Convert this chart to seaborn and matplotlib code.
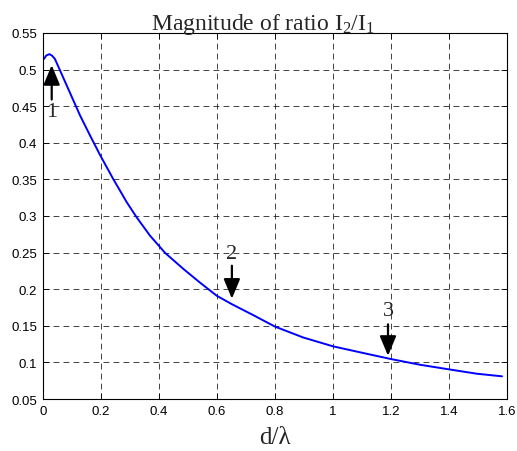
import numpy as np
import pandas as pd
import seaborn as sns
import matplotlib.pyplot as plt

# values
d_lambda = [0.0045, 0.012, 0.023, 0.032, 0.042, 0.06, 0.083, 0.106, 0.129, 0.163,
            0.198, 0.243, 0.29, 0.324, 0.37, 0.422, 0.485, 0.542, 0.6, 0.652,
            0.726, 0.8, 0.898, 1.0, 1.105, 1.2, 1.3, 1.4, 1.497, 1.583]
ratio = [0.5145, 0.519, 0.521, 0.519, 0.5145, 0.4985, 0.478, 0.4575, 0.437, 0.41,
         0.383, 0.3505, 0.3185, 0.298, 0.273, 0.2495, 0.2276, 0.209, 0.191, 0.1795,
         0.1645, 0.149, 0.134, 0.122, 0.1128, 0.1046, 0.0968, 0.0905, 0.0845, 0.081]

# arrow markers: x, tip y, tail y, label y
marker_labels = ['1', '2', '3']
marker_x = [0.031, 0.652, 1.19]
marker_tip = [0.506, 0.187, 0.109]
marker_tail = [0.459, 0.232, 0.152]
marker_text_y = [0.443, 0.249, 0.171]

df = pd.DataFrame({'d': d_lambda, 'r': ratio})

sns.set_style('white')
plt.rcParams['font.family'] = ['Liberation Sans', 'DejaVu Sans']
plt.rcParams['mathtext.fontset'] = 'custom'
plt.rcParams['mathtext.rm'] = 'Liberation Serif'

fig = plt.figure(figsize=(5.17, 4.52), dpi=100)
ax = fig.add_axes([0.0826, 0.115, 0.898, 0.81])

sns.lineplot(data=df, x='d', y='r', color='#0000ff', linewidth=1.4, ax=ax)

for lab, x, tip, tail, ty in zip(marker_labels, marker_x, marker_tip, marker_tail, marker_text_y):
    ax.annotate('', xy=(x, tip), xytext=(x, tail),
                arrowprops=dict(arrowstyle='-|>,head_width=0.5,head_length=1.2',
                                color='black', lw=1.6, shrinkA=0, shrinkB=0))
    ax.text(x, ty, lab, ha='center', va='center', fontsize=16,
            family='Liberation Serif')

ax.set_xlim(0, 1.6)
ax.set_ylim(0.05, 0.55)
ax.set_xticks(np.arange(0, 1.61, 0.2))
ax.set_yticks(np.arange(0.05, 0.551, 0.05))
ax.set_xticklabels(['0', '0.2', '0.4', '0.6', '0.8', '1', '1.2', '1.4', '1.6'])
ax.set_yticklabels(['0.05', '0.1', '0.15', '0.2', '0.25', '0.3', '0.35', '0.4',
                    '0.45', '0.5', '0.55'])
ax.grid(True, color='#222222', linestyle=(0, (7, 5)), linewidth=0.6)
ax.tick_params(direction='in', length=4, width=0.6, labelsize=9.5, colors='black',
               top=True, right=True, bottom=True, left=True, pad=4)
for s in ax.spines.values():
    s.set_color('black')
    s.set_linewidth(0.8)

ax.set_title(r'Magnitude of ratio $\mathrm{I_2/I_1}$', fontsize=17,
             family='Liberation Serif', pad=3, x=0.474)
ax.set_xlabel('d/λ', fontsize=18, family='Liberation Serif', labelpad=7)
ax.set_ylabel('')

fig.savefig('out.png', dpi=100)
